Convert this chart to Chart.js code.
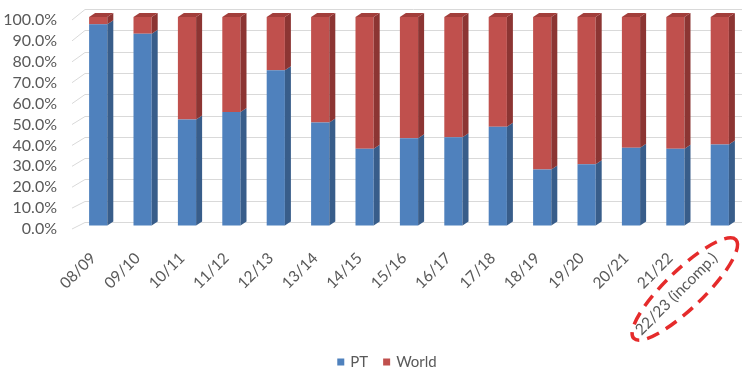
<!DOCTYPE html>
<html>
<head>
<meta charset="utf-8">
<script src="https://cdn.jsdelivr.net/npm/chart.js@4/dist/chart.umd.min.js"></script>
<style>
  html, body { margin: 0; padding: 0; background: #ffffff; }
  #wrap { width: 744px; height: 371px; position: relative; }
</style>
</head>
<body>
<div id="wrap"><canvas id="c" width="744" height="371"></canvas></div>
<script>
// Seasons on the category axis
const seasons = ['08/09', '09/10', '10/11', '11/12', '12/13', '13/14', '14/15', '15/16',
                 '16/17', '17/18', '18/19', '19/20', '20/21', '21/22', '22/23 (incomp.)'];

// Share of each season, in percent
const ptShare    = [96.5, 92, 51, 54.5, 74.5, 49.5, 37, 42, 42.5, 47.5, 27, 29.5, 37.5, 37, 39];
const worldShare = [3.5, 8, 49, 45.5, 25.5, 50.5, 63, 58, 57.5, 52.5, 73, 70.5, 62.5, 63, 61];

// Value-axis ticks
const yTicks = [0, 10, 20, 30, 40, 50, 60, 70, 80, 90, 100];

const FONT = 'Lato, "Open Sans", "Liberation Sans", sans-serif';
const TEXT = '#595959';

const faces = {
  PT:    { front: '#4F81BD', side: '#385D8A' },
  World: { front: '#C0504D', side: '#8C3533', top: '#A23E3B' }
};
const DEPTH_X = 6, DEPTH_Y = 4;

// Back wall grid with a short slanted side-wall segment on the left
const wallGrid = {
  id: 'wallGrid',
  beforeDatasetsDraw(chart) {
    const { ctx, chartArea: a, scales: { y } } = chart;
    ctx.save();
    ctx.strokeStyle = '#D9D9D9';
    ctx.lineWidth = 1;
    yTicks.forEach(v => {
      const yf = y.getPixelForValue(v);
      const yb = Math.round(yf - 4 - 4 * v / 100) + 0.5;
      ctx.beginPath();
      ctx.moveTo(a.left - 4, yf + 3);
      ctx.lineTo(a.left + 9, yb);
      ctx.lineTo(a.right, yb);
      ctx.stroke();
    });
    ctx.restore();
  }
};

// Side and top faces that give the columns depth
const columnDepth = {
  id: 'columnDepth',
  afterDatasetsDraw(chart) {
    const { ctx } = chart;
    const n = chart.data.datasets.length;
    ctx.save();
    chart.data.datasets.forEach((ds, di) => {
      const meta = chart.getDatasetMeta(di);
      const f = faces[ds.label];
      meta.data.forEach(bar => {
        const p = bar.getProps(['x', 'y', 'base', 'width'], true);
        const l = p.x - p.width / 2, r = p.x + p.width / 2;
        const top = Math.min(p.y, p.base), bot = Math.max(p.y, p.base);
        ctx.fillStyle = f.side;
        ctx.beginPath();
        ctx.moveTo(r, top);
        ctx.lineTo(r + DEPTH_X, top - DEPTH_Y);
        ctx.lineTo(r + DEPTH_X, bot - DEPTH_Y);
        ctx.lineTo(r, bot);
        ctx.closePath();
        ctx.fill();
        if (di === n - 1) {
          ctx.fillStyle = f.top;
          ctx.beginPath();
          ctx.moveTo(l, top);
          ctx.lineTo(l + DEPTH_X, top - DEPTH_Y);
          ctx.lineTo(r + DEPTH_X, top - DEPTH_Y);
          ctx.lineTo(r, top);
          ctx.closePath();
          ctx.fill();
        }
      });
    });
    ctx.restore();
  }
};

// Legend row and the dashed marker round the last season's label
const extras = {
  id: 'extras',
  afterDraw(chart) {
    const { ctx, scales: { x }, chartArea: a } = chart;
    ctx.save();
    // legend
    ctx.font = '15px ' + FONT;
    ctx.textBaseline = 'middle';
    const items = chart.data.datasets.map(ds => ({ label: ds.label, color: ds.backgroundColor }));
    const box = 7, gapText = 6, gapItem = 15;
    let total = 0;
    items.forEach((it, i) => {
      it.w = ctx.measureText(it.label).width;
      total += box + gapText + it.w + (i ? gapItem : 0);
    });
    let cx = 387 - total / 2;
    const cy = 362;
    items.forEach((it, i) => {
      if (i) cx += gapItem;
      ctx.fillStyle = it.color;
      ctx.fillRect(cx, cy - box / 2, box, box);
      cx += box + gapText;
      ctx.fillStyle = TEXT;
      ctx.textAlign = 'left';
      ctx.fillText(it.label, cx, cy);
      cx += it.w;
    });
    // dashed ellipse
    const lx = x.getPixelForValue(seasons.length - 1);
    ctx.strokeStyle = '#E52B2B';
    ctx.lineWidth = 3.5;
    ctx.setLineDash([13, 8]);
    ctx.beginPath();
    ctx.ellipse(lx - 35, a.bottom + 63, 71, 19, -44 * Math.PI / 180, 0, Math.PI * 2);
    ctx.stroke();
    ctx.restore();
  }
};

// Invisible tick marks carry the label offset from the plot edge
const hiddenTicks = len => ({
  display: true, drawOnChartArea: false, drawTicks: true,
  tickLength: len, color: 'rgba(0,0,0,0)', tickColor: 'rgba(0,0,0,0)'
});

new Chart(document.getElementById('c'), {
  type: 'bar',
  data: {
    labels: seasons,
    datasets: [
      { label: 'PT', data: ptShare, backgroundColor: faces.PT.front, borderWidth: 0 },
      { label: 'World', data: worldShare, backgroundColor: faces.World.front, borderWidth: 0 }
    ]
  },
  options: {
    responsive: false,
    animation: false,
    devicePixelRatio: 1,
    layout: { padding: { top: 17, right: 2, bottom: 0, left: 0 } },
    datasets: { bar: { categoryPercentage: 1, barPercentage: 0.41 } },
    plugins: { legend: { display: false }, tooltip: { enabled: false } },
    scales: {
      x: {
        stacked: true,
        grid: hiddenTicks(23),
        border: { display: false },
        ticks: {
          autoSkip: false, minRotation: 45, maxRotation: 45, padding: 0, labelOffset: -5,
          color: TEXT, font: { family: FONT, size: 15.5 }
        },
        afterFit(s) { s.height = 145; }
      },
      y: {
        stacked: true,
        min: 0, max: 100,
        afterBuildTicks(s) { s.ticks = yTicks.map(v => ({ value: v })); },
        grid: hiddenTicks(19),
        border: { display: false },
        ticks: {
          autoSkip: false, padding: 0, labelOffset: 3,
          color: TEXT, font: { family: FONT, size: 16 },
          callback: v => v.toFixed(1) + '%'
        },
        afterFit(s) { s.width = 76; }
      }
    }
  },
  plugins: [wallGrid, columnDepth, extras]
});
</script>
</body>
</html>
